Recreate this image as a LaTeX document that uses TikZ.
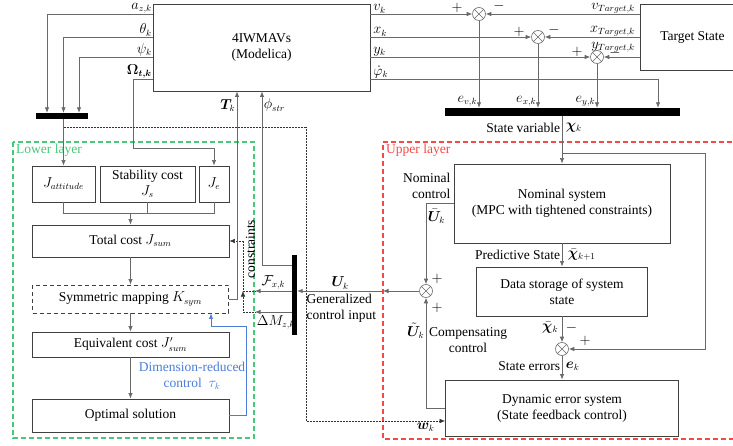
\documentclass[tikz,border=0pt]{standalone}
\usepackage{amsmath}
\usepackage{bm}
\usepackage{fontspec}
\setmainfont{Liberation Serif}
\usetikzlibrary{arrows.meta}
\definecolor{boxgray}{RGB}{64,64,64}
\definecolor{wiregray}{RGB}{105,105,105}
\definecolor{lowgreen}{RGB}{70,200,120}
\definecolor{upred}{RGB}{250,70,70}
\definecolor{taublue}{RGB}{75,125,215}
\newcommand{\dfont}{\fontsize{13.5}{16}\selectfont}
\tikzset{
  blk/.style={draw=boxgray, line width=0.9pt, fill=white, align=center, inner sep=2pt},
  dblk/.style={blk, dash pattern=on 4pt off 3pt},
  sumj/.style={circle, draw=wiregray, line width=0.6pt, fill=white, minimum size=13pt, inner sep=0pt,
    path picture={\draw[wiregray, line width=0.6pt]
      (path picture bounding box.north west) -- (path picture bounding box.south east)
      (path picture bounding box.north east) -- (path picture bounding box.south west);}},
  sbar/.style={fill=black, inner sep=0pt},
  wire/.style={draw=wiregray, line width=0.7pt},
  arr/.style={wire, -{Latex[length=5.5pt, width=4.5pt]}},
  dotarr/.style={arr, draw=black!80, line width=0.5pt, densely dotted},
  tauarr/.style={arr, draw=taublue},
  lbl/.style={inner sep=1.5pt},
  tlbl/.style={inner sep=0.5pt},
  sgn/.style={inner sep=0pt},
  layer/.style={line width=1.1pt, dash pattern=on 5pt off 3pt},
}

\begin{document}
\begin{tikzpicture}[x=1pt, y=-1pt, font=\dfont]
  \useasboundingbox (0,0) rectangle (733,446);
  % the two layers
  \draw[layer, lowgreen] (13,142) rectangle (254,438);
  \draw[layer, upred] (740,142) -- (383,142) -- (383,439) -- (740,439);
  \node[lowgreen, anchor=north west, inner sep=1pt] (lowlbl) at (15,143) {Lower layer};
  \node[upred, anchor=north west, inner sep=1pt] (uplbl) at (385,143) {Upper layer};

  % plant and target
  \node[blk, minimum width=217pt, minimum height=87pt] (plant) at (261.5,47.5) {4IWMAVs\\(Modelica)};
  \node[blk, minimum width=105pt, minimum height=66pt] (target) at (692.5,37) {Target State};
  \node[sumj] (sv) at (479,14) {};
  \node[sumj] (sx) at (538,37) {};
  \node[sumj] (sy) at (597,57) {};
  \node[sbar, minimum width=235pt, minimum height=8pt] (sbus) at (562,112) {};
  \node[sbar, minimum width=52pt, minimum height=6pt] (mbus) at (62,116) {};
  \node[sbar, minimum width=5pt, minimum height=80pt] (ubus) at (294.5,295) {};

  % upper layer
  \node[blk, minimum width=216pt, minimum height=79pt] (nom) at (562,203.5) {Nominal system\\(MPC with tightened constraints)};
  \node[blk, minimum width=171pt, minimum height=49pt] (store) at (562,291.5) {Data storage of system\\state};
  \node[blk, minimum width=233pt, minimum height=56pt] (dyn) at (562,408) {Dynamic error system\\(State feedback control)};
  \node[sumj] (su) at (426,291) {};
  \node[sumj] (se) at (562,349) {};

  % lower layer
  \node[blk, minimum width=63pt, minimum height=36pt] (ja) at (63.5,184) {$J_{attitude}$};
  \node[blk, minimum width=95pt, minimum height=36pt] (js) at (147.5,184) {Stability cost\\$J_s$};
  \node[blk, minimum width=30pt, minimum height=36pt] (je) at (214,184) {$J_e$};
  \node[blk, minimum width=197pt, minimum height=32pt] (tot) at (130.5,241) {Total cost $J_{sum}$};
  \node[dblk, minimum width=196pt, minimum height=28pt] (symmap) at (130.5,299) {Symmetric mapping $K_{sym}$};
  \node[blk, minimum width=197pt, minimum height=25pt] (eq) at (130.5,344.5) {Equivalent cost $J'_{sum}$};
  \node[blk, minimum width=197pt, minimum height=33pt] (opt) at (130.5,415.5) {Optimal solution};

  % bends
  \coordinate (azc) at (47,14);
  \coordinate (thc) at (63.5,37);
  \coordinate (psc) at (79,57);
  \coordinate (omc) at (133,79);
  \coordinate (omb) at (133,148);
  \coordinate (phc) at (658,79);
  \coordinate (chb) at (562,153);
  \coordinate (fbk) at (705,153);
  \coordinate (redin) at (383,291);
  \coordinate (fxin) at (255,291);
  \coordinate (dmin) at (255,312);
  \coordinate (cj) at (243,291);
  \coordinate (cm) at (243,312);
  \coordinate (phs) at (262,265);
  \coordinate (tkc) at (237,299);
  \coordinate (taur) at (246,326);
  \coordinate (taut) at (211,326);
  \coordinate (jmrg) at (130.5,213);
  \coordinate (wst) at (63.5,127);
  \coordinate (wc) at (306,127);

  % measured states to the lower layer
  \draw[arr] (plant.west |- azc) node[tlbl, anchor=south east] {$a_{z,k}$} -- (azc) -- (azc |- mbus.north);
  \draw[arr] (plant.west |- thc) node[tlbl, anchor=south east] {$\theta_k$} -- (thc) -- (thc |- mbus.north);
  \draw[arr] (plant.west |- psc) node[tlbl, anchor=south east] {$\psi_k$} -- (psc) -- (psc |- mbus.north);
  \draw[arr] (plant.west |- omc) node[tlbl, anchor=south east] {$\bm{\Omega}_{\bm{t,k}}$} -- (omc) -- (omb) -| (je.north);
  \draw[arr] (ja.north |- mbus.south) -- (ja.north);
  \draw[dotarr] (wst) -- (wc) |- node[lbl, pos=0.93, below] {$\bm{w}_k$} ([yshift=-13pt]dyn.west);

  % tracking errors
  \draw[arr] (plant.east |- sv) node[tlbl, anchor=south west, xshift=2pt] {$v_k$} -- (sv.west);
  \draw[arr] (plant.east |- sx) node[tlbl, anchor=south west, xshift=2pt] {$x_k$} -- (sx.west);
  \draw[arr] (plant.east |- sy) node[tlbl, anchor=south west, xshift=2pt] {$y_k$} -- (sy.west);
  \draw[arr] (plant.east |- phc) node[tlbl, anchor=south west, xshift=2pt] {$\dot{\varphi}_k$} -- (phc) -- (phc |- sbus.north);
  \draw[arr] (target.west |- sv) node[tlbl, anchor=south east, xshift=-4pt] {$v_{Target,k}$} -- (sv.east);
  \draw[arr] (target.west |- sx) node[tlbl, anchor=south east, xshift=-4pt] {$x_{Target,k}$} -- (sx.east);
  \draw[arr] (target.west |- sy) node[tlbl, anchor=south east, xshift=-4pt, yshift=4pt] {$y_{Target,k}$} -- (sy.east);
  \draw[arr] (sv.south) -- (sv.south |- sbus.north) node[lbl, anchor=south east] {$e_{v,k}$};
  \draw[arr] (sx.south) -- (sx.south |- sbus.north) node[lbl, anchor=south east] {$e_{x,k}$};
  \draw[arr] (sy.south) -- (sy.south |- sbus.north) node[lbl, anchor=south east] {$e_{y,k}$};
  \node[sgn] (pv) at (457,8) {$+$};
  \node[sgn] (mv) at (499,6) {$-$};
  \node[sgn] (px) at (519,32) {$+$};
  \node[sgn] (mx) at (554,30) {$-$};
  \node[sgn] (py) at (577,52) {$+$};
  \node[sgn] (my) at (615,53) {$-$};

  % upper layer wiring
  \draw[arr] (sbus.south) -- node[lbl, left, pos=0.25] {State variable} node[lbl, right, pos=0.25, xshift=2pt] {$\bm{\chi}_k$} (nom.north);
  \draw[arr] (chb) -- (fbk) |- (se.east);
  \node[sgn] (pe) at (585,341) {$+$};
  \draw[arr] (nom.south) -- node[lbl, left] {Predictive State} node[lbl, right, xshift=4pt] {$\bar{\bm{\chi}}_{k+1}$} (store.north);
  \draw[arr] (store.south) -- node[lbl, left, pos=0.45, xshift=-2pt] {$\bar{\bm{\chi}}_k$} node[lbl, right, pos=0.45, xshift=2pt] {$-$} (se.north);
  \draw[arr] (se.south) -- node[lbl, left, pos=0.45] {State errors} node[lbl, right, pos=0.45, xshift=2pt] {$\bm{e}_k$} (dyn.north);
  \draw[arr] (nom.west) -| node[lbl, pos=0.58, right] {$\bar{\bm{U}}_k$} (su.north);
  \node[lbl, align=right, anchor=south east] (nomctl) at (452,200) {Nominal\\control};
  \draw[arr] (dyn.west) -| node[lbl, pos=0.85, left] {$\tilde{\bm{U}}_k$} (su.south);
  \node[lbl, align=center] (cmpctl) at (468,340) {Compensating\\control};
  \node[sgn] (pu1) at (437,279) {$+$};
  \node[sgn] (pu2) at (437,308) {$+$};

  % generalized control input
  \draw[arr] (su.west) -- (redin);
  \draw[arr] (redin) -- node[lbl, above] {$\bm{U}_k$} (ubus.east |- redin);
  \node[lbl, anchor=north west, align=left] (gci) at (305,292) {Generalized\\control input};
  \draw[arr] (ubus.west |- fxin) -- node[lbl, above] {$\mathcal{F}_{x,k}$} (fxin);
  \draw[arr] (ubus.west |- dmin) -- (dmin) node[lbl, anchor=north west, yshift=-2pt] {$\Delta M_{z,k}$};
  \draw[dotarr] (dmin) -- (cm) -- (cj);
  \draw[dotarr] (fxin) -- (cj) |- (tot.east);
  \node[lbl, rotate=90, inner sep=0pt] (cstr) at (250.5,249) {constraints};
  \draw[arr] (ubus.west |- phs) -- (phs) -- node[lbl, pos=0.92, right] {$\phi_{str}$} (phs |- plant.south);
  \draw[arr] (symmap.east) -- (tkc) -- node[lbl, pos=0.93, left] {$\bm{T}_k$} (tkc |- plant.south);

  % lower layer wiring
  \draw[wire] (ja.south) |- (jmrg);
  \draw[wire] (je.south) |- (jmrg);
  \draw[wire] (js.south) -- (js.south |- jmrg);
  \draw[arr] (jmrg) -- (tot.north);
  \draw[arr] (tot.south) -- (symmap.north);
  \draw[arr] (symmap.south) -- (eq.north);
  \draw[arr] (eq.south) -- (opt.north);
  \draw[tauarr] (opt.east) -| (taur) -- (taut) -- (taut |- symmap.south);
  \node[taublue, align=center] (taulbl) at (192,376) {Dimension-reduced\\control~~$\tau_k$};
\end{tikzpicture}
\end{document}
